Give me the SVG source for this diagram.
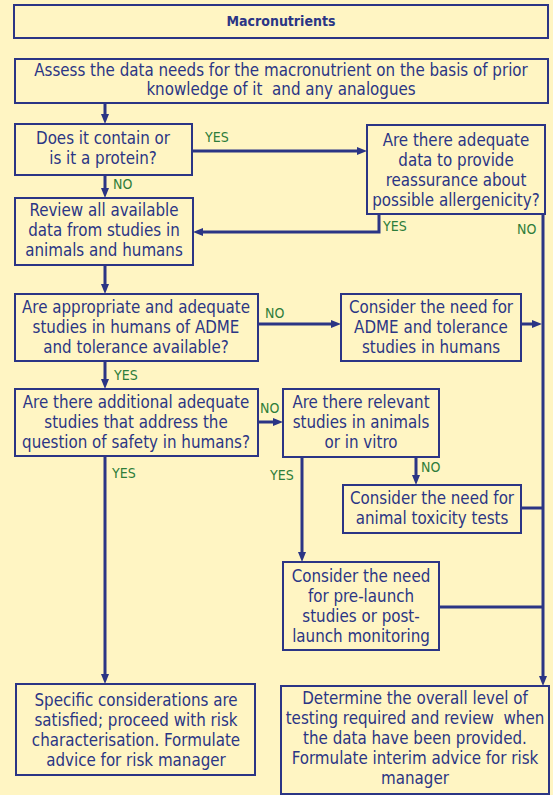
<svg xmlns="http://www.w3.org/2000/svg" width="553" height="795" viewBox="0 0 553 795">
<defs>
<style>
.bg{fill:#FFF5C3}
.box{fill:#FFF5C3;stroke:#2B3585;stroke-width:2}
.t{font-family:"DejaVu Sans Condensed","Liberation Sans Narrow","Liberation Sans",sans-serif;font-size:16.8px;fill:#2B3585;text-anchor:middle;white-space:pre}
.title{font-family:"DejaVu Sans Condensed","Liberation Sans Narrow","Liberation Sans",sans-serif;font-size:14px;font-weight:bold;fill:#2B3585;text-anchor:middle}
.lab{font-family:"DejaVu Sans Condensed","Liberation Sans Narrow","Liberation Sans",sans-serif;font-size:14px;fill:#2E7D3A}
.c{fill:none;stroke:#2B3585;stroke-width:3}
</style>
<marker id="ah" markerUnits="userSpaceOnUse" markerWidth="10" markerHeight="8" refX="5" refY="4" orient="auto">
<path d="M0,0 L10,4 L0,8 z" fill="#2B3585"/>
</marker>
</defs>
<rect class="bg" x="0" y="0" width="553" height="795"/>
<g id="connectors">
<path class="c" d="M105,103 V119" marker-end="url(#ah)"/>
<path class="c" d="M192,151 H362" marker-end="url(#ah)"/>
<path class="c" d="M105,175 V193" marker-end="url(#ah)"/>
<path class="c" d="M379,214 V232 H198" marker-end="url(#ah)"/>
<path class="c" d="M543,214 V681" marker-end="url(#ah)"/>
<path class="c" d="M105,265 V289" marker-end="url(#ah)"/>
<path class="c" d="M258,324 H336" marker-end="url(#ah)"/>
<path class="c" d="M521,324 H537" marker-end="url(#ah)"/>
<path class="c" d="M105,361 V384" marker-end="url(#ah)"/>
<path class="c" d="M258,422 H278" marker-end="url(#ah)"/>
<path class="c" d="M416,457 V480" marker-end="url(#ah)"/>
<path class="c" d="M521,508 H543"/>
<path class="c" d="M302,457 V557" marker-end="url(#ah)"/>
<path class="c" d="M439,607 H543"/>
<path class="c" d="M105,456 V679" marker-end="url(#ah)"/>
<text class="lab" x="205" y="142">YES</text>
<text class="lab" x="113" y="189">NO</text>
<text class="lab" x="383" y="231">YES</text>
<text class="lab" x="517" y="234">NO</text>
<text class="lab" x="265" y="318">NO</text>
<text class="lab" x="114" y="380">YES</text>
<text class="lab" x="260" y="413">NO</text>
<text class="lab" x="421" y="472">NO</text>
<text class="lab" x="270" y="480">YES</text>
<text class="lab" x="112" y="478">YES</text>
</g>
<g id="title">
<rect class="box" x="14" y="5" width="534" height="33"/>
<text class="title" x="281" y="26">Macronutrients</text>
</g>
<g id="assess">
<rect class="box" x="15" y="59" width="533" height="44"/>
<text class="t" x="281" y="76">Assess the data needs for the macronutrient on the basis of prior</text>
<text class="t" x="281" y="95" xml:space="preserve">knowledge of it  and any analogues</text>
</g>
<g id="protein">
<rect class="box" x="15" y="124" width="177" height="51"/>
<text class="t" x="103" y="144">Does it contain or</text>
<text class="t" x="103" y="164">is it a protein?</text>
</g>
<g id="allergen">
<rect class="box" x="367" y="125" width="178" height="89"/>
<text class="t" x="456" y="146">Are there adequate</text>
<text class="t" x="456" y="166">data to provide</text>
<text class="t" x="456" y="186">reassurance about</text>
<text class="t" x="456" y="206">possible allergenicity?</text>
</g>
<g id="review">
<rect class="box" x="15" y="198" width="178" height="67"/>
<text class="t" x="104" y="216">Review all available</text>
<text class="t" x="104" y="236">data from studies in</text>
<text class="t" x="104" y="256">animals and humans</text>
</g>
<g id="adme-q">
<rect class="box" x="15" y="294" width="243" height="67"/>
<text class="t" x="136" y="313">Are appropriate and adequate</text>
<text class="t" x="136" y="333">studies in humans of ADME</text>
<text class="t" x="136" y="353">and tolerance available?</text>
</g>
<g id="adme-c">
<rect class="box" x="341" y="294" width="180" height="67"/>
<text class="t" x="431" y="313">Consider the need for</text>
<text class="t" x="431" y="333">ADME and tolerance</text>
<text class="t" x="431" y="353">studies in humans</text>
</g>
<g id="additional">
<rect class="box" x="15" y="389" width="243" height="67"/>
<text class="t" x="136" y="408">Are there additional adequate</text>
<text class="t" x="136" y="428">studies that address the</text>
<text class="t" x="136" y="448">question of safety in humans?</text>
</g>
<g id="relevant">
<rect class="box" x="283" y="389" width="156" height="68"/>
<text class="t" x="361" y="408">Are there relevant</text>
<text class="t" x="361" y="428">studies in animals</text>
<text class="t" x="361" y="448">or in vitro</text>
</g>
<g id="toxicity">
<rect class="box" x="343" y="485" width="178" height="48"/>
<text class="t" x="432" y="504">Consider the need for</text>
<text class="t" x="432" y="524">animal toxicity tests</text>
</g>
<g id="prelaunch">
<rect class="box" x="283" y="562" width="156" height="88"/>
<text class="t" x="361" y="582">Consider the need</text>
<text class="t" x="361" y="602">for pre-launch</text>
<text class="t" x="361" y="622">studies or post-</text>
<text class="t" x="361" y="642">launch monitoring</text>
</g>
<g id="specific">
<rect class="box" x="16" y="684" width="239" height="91"/>
<text class="t" x="136" y="706">Specific considerations are</text>
<text class="t" x="136" y="726">satisfied; proceed with risk</text>
<text class="t" x="136" y="746">characterisation. Formulate</text>
<text class="t" x="136" y="766">advice for risk manager</text>
</g>
<g id="determine">
<rect class="box" x="281" y="686" width="268" height="108"/>
<text class="t" x="415" y="704">Determine the overall level of</text>
<text class="t" x="415" y="724" xml:space="preserve">testing required and review  when</text>
<text class="t" x="415" y="744">the data have been provided.</text>
<text class="t" x="415" y="764">Formulate interim advice for risk</text>
<text class="t" x="415" y="784">manager</text>
</g>
</svg>
